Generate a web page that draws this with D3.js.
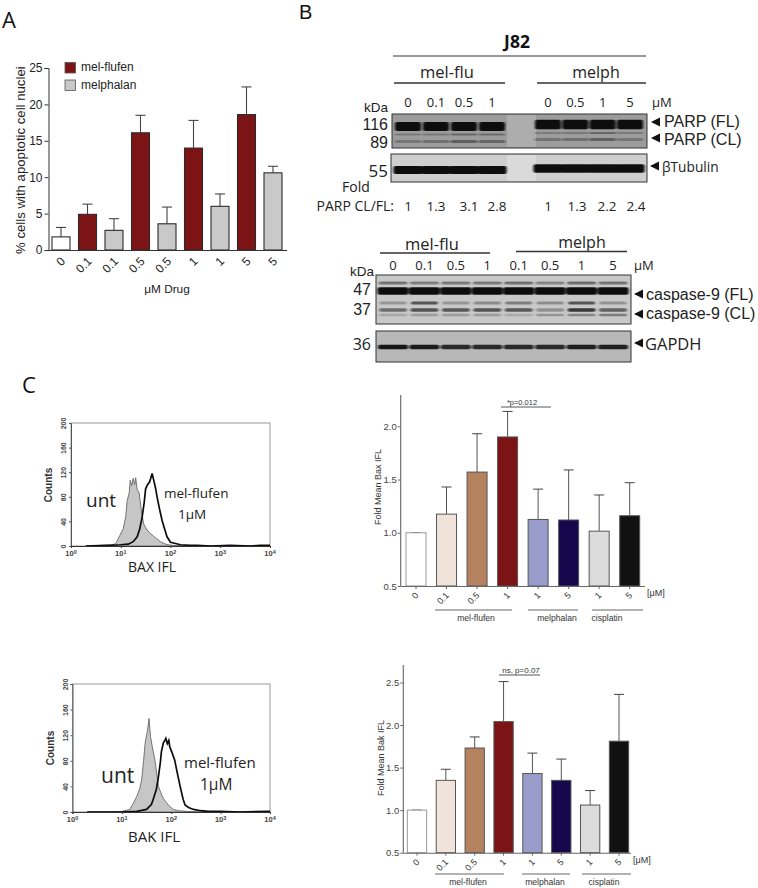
<!DOCTYPE html>
<html><head><meta charset="utf-8">
<script src="https://cdnjs.cloudflare.com/ajax/libs/d3/7.8.5/d3.min.js"></script>
<style>html,body{margin:0;background:#fff}svg{display:block}</style></head>
<body><svg id="c" width="758" height="888"></svg>
<script>
// ---- Panel A
const aCats=["0","0.1","0.1","0.5","0.5","1","1","5","5"];
const aVals=[1.8,4.9,2.7,16.1,3.6,14,6,18.6,10.6];
const aTops=[3.1,6.3,4.3,18.5,5.9,17.8,7.7,22.4,11.5];
const aKinds=["none","flufen","melph","flufen","melph","flufen","melph","flufen","melph"];
const aLegend=["mel-flufen","melphalan"];
// ---- Panel C bars
const cCats=["0","0.1","0.5","1","1","5","1","5"];
const cColors=["#ffffff","#efe3da","#b5825f","#7c1416","#9a9dcb","#17084e","#dcdcdc","#111111"];
const baxVals=[1,1.175,1.57,1.9,1.125,1.12,1.015,1.16];
const baxTops=[1,1.43,1.93,2.14,1.41,1.59,1.355,1.47];
const bakVals=[1,1.35,1.73,2.04,1.43,1.35,1.06,1.81];
const bakTops=[1,1.48,1.86,2.51,1.67,1.6,1.23,2.36];
// ---- Flow histograms (log10 intensity, counts)
const baxUntX=[0.3,0.6,0.8,0.9,0.98,1.05,1.1,1.13,1.17,1.19,1.22,1.25,1.28,1.3,1.33,1.37,1.41,1.46,1.5,1.55,1.6,1.66,1.72,1.8,1.87,1.95,2.05,2.3,4];
const baxUntY=[0,1,1,4,17,28,48,74,86,107,98,110,100,111,92,86,60,36,30,24,20,16,12,7,4,2,1,0,0];
const baxTrtX=[0.3,0.7,1,1.15,1.25,1.33,1.38,1.43,1.47,1.5,1.54,1.58,1.61,1.63,1.66,1.7,1.73,1.78,1.83,1.87,1.93,2,2.1,2.2,2.4,2.54,2.8,3.2,3.6,3.8,4];
const baxTrtY=[0,1,2,3,7,15,27,47,70,93,100,104,112,118,108,94,80,60,42,31,15,6,4,2,1,1,0,1,0,1,1];
const bakUntX=[0.3,0.8,1,1.16,1.22,1.3,1.36,1.4,1.44,1.47,1.5,1.52,1.55,1.58,1.62,1.67,1.74,1.8,1.84,1.9,1.94,2.04,2.15,2.3,2.6,4];
const bakUntY=[0,0,1,4,12,24,36,50,80,107,120,128,146,118,100,81,40,28,21,15,11,4,2,1,0,0];
const bakTrtX=[0.3,1,1.3,1.5,1.6,1.64,1.7,1.74,1.78,1.8,1.84,1.87,1.89,1.92,1.95,1.97,2.02,2.07,2.12,2.18,2.24,2.28,2.35,2.45,2.6,2.75,3,3.4,4];
const bakTrtY=[0,0,1,4,12,21,36,55,78,94,108,112,115,107,112,102,92,81,62,40,20,11,7,4,2,1,1,0,1];
// ---- Blots
const lanesTop=["0","0.1","0.5","1"];
const lanesTop2=["0","0.5","1","5"];
const foldFlu=["1","1.3","3.1","2.8"];
const foldMel=["1","1.3","2.2","2.4"];
const lanesCasp=["0","0.1","0.5","1","0.1 ","0.5 ","1 ","5"];
const parpFL=[1,1,1,1,1,1,1,1];
const parpCL=[.3,.35,.5,.45,.32,.35,.5,.3];
const tubulin=[1,1,1,1,1,1,1,1];
const casp1=[.5,.45,.48,.48,.52,.42,.55,.5];
const casp2=[1,1,1,1,1,1,1,1];
const casp3=[.3,.7,.3,.38,.45,.35,.7,.32];
const casp4=[.55,.7,.68,.7,.68,.32,.85,.62];
const casp5=[.22,.28,.28,.28,.18,.35,.45,.5];
const gapdh=[.95,.92,.85,.85,.85,.85,.9,.9];

const svg=d3.select("#c");
const defs=svg.append("defs");
defs.append("filter").attr("id","b1").attr("x","-10%").attr("y","-60%").attr("width","120%").attr("height","220%")
  .append("feGaussianBlur").attr("stdDeviation","0.9 0.7");
const BLOT='"Open Sans","Noto Sans",sans-serif', CHART='"Liberation Sans",Arial,sans-serif';
function txt(x,y,s,size,opt={}){
  return svg.append("text").attr("x",x).attr("y",y).text(s)
    .attr("font-family",opt.font||BLOT).attr("font-size",size)
    .attr("font-weight",opt.weight||400).attr("fill",opt.fill||"#222")
    .attr("text-anchor",opt.anchor||"start")
    .attr("transform",opt.rot!=null?`rotate(${opt.rot} ${x} ${y})`:null);
}
function hline(x1,x2,y,w=1.3,c="#333"){svg.append("line").attr("x1",x1).attr("x2",x2).attr("y1",y).attr("y2",y).attr("stroke",c).attr("stroke-width",w);}

txt(2,28,"A",22,{fill:"#111"}); txt(299,19,"B",20,{fill:"#111",font:CHART}); txt(22,393,"C",22,{fill:"#111"});

// ---------- Panel A
(function(){
  const y=d3.scaleLinear().domain([0,25]).range([250,68]);
  const x=d3.scalePoint().domain(d3.range(aCats.length)).range([61,273]);
  const g=svg.append("g");
  const col={none:"#fff",flufen:"#7c1416",melph:"#c9c9c9"};
  const bw=18;
  g.selectAll("line.e").data(aVals).join("line").attr("x1",(d,i)=>x(i)).attr("x2",(d,i)=>x(i))
    .attr("y1",d=>y(d)).attr("y2",(d,i)=>y(aTops[i])).attr("stroke","#444").attr("stroke-width",1.1);
  g.selectAll("line.c").data(aTops).join("line").attr("x1",(d,i)=>x(i)-5).attr("x2",(d,i)=>x(i)+5)
    .attr("y1",d=>y(d)).attr("y2",d=>y(d)).attr("stroke","#444").attr("stroke-width",1.1);
  g.selectAll("rect").data(aVals).join("rect").attr("x",(d,i)=>x(i)-bw/2).attr("width",bw)
    .attr("y",d=>y(d)).attr("height",d=>y(0)-y(d)).attr("fill",(d,i)=>col[aKinds[i]])
    .attr("stroke","#2b2b2b").attr("stroke-width",1.1);
  const ax=g.append("g").attr("transform","translate(48.5,0)").call(d3.axisLeft(y).tickValues([0,5,10,15,20,25]).tickSize(4).tickPadding(2));
  ax.selectAll("text").attr("font-family",CHART).attr("font-size",12).attr("fill","#222");
  ax.selectAll("path,line").attr("stroke","#333");
  hline(48,287,250.5,1.1);
  g.selectAll("text.t").data(aCats).join("text").attr("class","t").text(d=>d)
    .attr("font-family",CHART).attr("font-size",12).attr("fill","#222").attr("text-anchor","end")
    .attr("transform",(d,i)=>`translate(${x(i)+5},${262}) rotate(-45)`);
  txt(25,254,"% cells with apoptotic cell nuclei",13.2,{font:CHART,rot:-90});
  txt(167,293,"μM Drug",11.8,{font:CHART,anchor:"middle"});
  aLegend.forEach((s,i)=>{
    svg.append("rect").attr("x",65).attr("y",62.5+i*17.5).attr("width",10.5).attr("height",10.5)
      .attr("fill",i?"#c9c9c9":"#7c1416").attr("stroke","#555").attr("stroke-width",.8);
    txt(81,71+i*17.5,s,12,{font:CHART});
  });
})();

// ---------- Blots
function blot(x0,x1,y0,y1,bg,stroke){
  svg.append("rect").attr("x",x0).attr("y",y0).attr("width",x1-x0).attr("height",y1-y0)
    .attr("fill",bg).attr("stroke",stroke||"#333").attr("stroke-width",1);
}
function bands(xf,lanes,vals,y,h,w,dark){
  svg.append("g").attr("filter","url(#b1)").selectAll("rect").data(vals).join("rect")
    .attr("x",(d,i)=>xf(lanes[i])-w/2).attr("width",w).attr("y",y-h/2).attr("height",h).attr("rx",2)
    .attr("fill",dark||"#0a0a0a").attr("opacity",d=>d);
}
const fluX=d3.scalePoint().domain(lanesTop).range([408,492]);
const melX=d3.scalePoint().domain(lanesTop2).range([548,630]);
// PARP
blot(392,647,114,148,"#9c9c9c");
svg.append("rect").attr("x",507).attr("y",115).attr("width",29).attr("height",32).attr("fill","#adadad");
bands(fluX,lanesTop,parpFL.slice(0,4),126.5,9,26);
bands(melX,lanesTop2,parpFL.slice(4),124.5,9.5,26);
bands(fluX,lanesTop,parpCL.slice(0,4),134.5,1.8,27,"#333");
bands(melX,lanesTop2,parpCL.slice(4),133,1.8,27,"#333");
bands(fluX,lanesTop,parpCL.slice(0,4),141.5,3,27,"#222");
bands(melX,lanesTop2,parpCL.slice(4),139.5,3,27,"#222");
// Tubulin
blot(391,647,154,182,"#cfcfcf");
svg.append("rect").attr("x",507).attr("y",155).attr("width",29).attr("height",26).attr("fill","#dadada");
bands(fluX,lanesTop,tubulin.slice(0,4),170,8,29);
bands(melX,lanesTop2,tubulin.slice(4),168.5,8.5,29);
// Caspase
const caspX=d3.scalePoint().domain(lanesCasp).range([393,613]);
blot(376,631,275,324,"#c8c8c8");
const L=lanesCasp;
bands(caspX,L,casp1,283,3,29,"#222");
bands(caspX,L,casp2,291,7.5,31);
bands(caspX,L,casp3,303,3,27,"#222");
bands(caspX,L,casp4,310,3.5,28,"#222");
bands(caspX,L,casp5,315,2.5,28,"#333");
// GAPDH
blot(376,631,331,362,"#b8b8b8");
bands(caspX,L,gapdh,347,4.5,30);

const F={font:CHART};
// top blot labels
txt(517,48,"J82",17.5,{weight:700,anchor:"middle",fill:"#111"});
hline(393,646,56,1.2);
txt(447,78,"mel-flu",16.5,{anchor:"middle"}); hline(394,505,83);
txt(596,78,"melph",16,{anchor:"middle"}); hline(537,646,83);
lanesTop.forEach(l=>txt(fluX(l),107,l,13,{anchor:"middle"}));
lanesTop2.forEach(l=>txt(melX(l),107,l,13,{anchor:"middle"}));
txt(652,107,"μM",13);
txt(388,112,"kDa",13.5,{anchor:"end",...F});
txt(388,130,"116",16,{anchor:"end",...F}); txt(388,148,"89",16,{anchor:"end",...F}); txt(388,177,"55",17,{anchor:"end"});
txt(342,192,"Fold",14);
txt(394,211,"PARP CL/FL:",14,{anchor:"end"});
const foldX=d3.scaleOrdinal().domain(d3.range(8)).range([408,436,469,497,548,577,607,636]);
foldFlu.concat(foldMel).forEach((s,i)=>txt(foldX(i),211,s,13.5,{anchor:"middle"}));
function arrow(x,y){svg.append("path").attr("d",d3.line()([[x,y],[x+9,y-4.5],[x+9,y+4.5],[x,y]])).attr("fill","#111");}
arrow(651,122); txt(664,127,"PARP (FL)",16,F);
arrow(651,138); txt(664,145,"PARP (CL)",16,F);
arrow(650,166); txt(662,172,"βTubulin",13.7);
// caspase labels
txt(432,250,"mel-flu",16.5,{anchor:"middle"}); hline(380,490,253);
txt(582,248,"melph",16,{anchor:"middle"}); hline(516,627,251.5);
lanesCasp.forEach(l=>txt(caspX(l),270,l.trim(),13,{anchor:"middle"}));
txt(634,270,"μM",13);
txt(374,276,"kDa",13.5,{anchor:"end",...F});
txt(371,295,"47",16,{anchor:"end",...F}); txt(371,315,"37",16,{anchor:"end",...F}); txt(371,350,"36",16,{anchor:"end"});
arrow(634,294); txt(646,300,"caspase-9 (FL)",16,F);
arrow(634,314); txt(646,319,"caspase-9 (CL)",16,F);
arrow(634,343); txt(645,350,"GAPDH",16.5);

// ---------- Histograms
function hist(cfg){
  const x=d3.scaleLinear().domain([0,4]).range([cfg.x0,cfg.x1]);
  const y=d3.scaleLinear().domain([0,200]).range([cfg.y1,cfg.y0]);
  const g=svg.append("g");
  g.append("rect").attr("x",cfg.x0).attr("y",cfg.y0).attr("width",cfg.x1-cfg.x0).attr("height",cfg.y1-cfg.y0)
    .attr("fill","#fff").attr("stroke","#999").attr("stroke-width",1);
  const area=d3.area().x((d,i)=>x(cfg.ux[i])).y0(y(0)).y1(d=>y(d));
  const line=d3.line().x((d,i)=>x(cfg.tx[i])).y(d=>y(d));
  g.append("path").attr("d",area(cfg.uy)).attr("fill","#c6c6c6").attr("stroke","#666").attr("stroke-width",.9);
  g.append("path").attr("d",line(cfg.ty)).attr("fill","none").attr("stroke","#0c0c0c").attr("stroke-width",1.7);
  const ay=g.append("g").attr("transform",`translate(${cfg.x0},0)`).call(d3.axisLeft(y).tickValues([0,40,80,120,160,200]).tickSize(2).tickPadding(1));
  ay.selectAll("path").attr("stroke","#555");ay.selectAll("line").attr("stroke","#555");
  ay.selectAll("text").attr("font-family",CHART).attr("font-size",7).attr("font-weight",700).attr("fill","#444")
    .attr("text-anchor","middle").attr("dy",0).attr("transform","translate(-5,0) rotate(-90)").attr("x",0).attr("y",0);
  const ax=g.append("g").attr("transform",`translate(0,${cfg.y1})`).call(d3.axisBottom(x).tickValues([0,1,2,3,4]).tickSize(2).tickFormat(()=>""));
  ax.selectAll("path,line").attr("stroke","#333");
  [0,1,2,3,4].forEach(e=>{
    const t=g.append("text").attr("x",x(e)).attr("y",cfg.y1+10).attr("font-family",CHART).attr("font-size",7.5).attr("font-weight",700).attr("fill","#444").attr("text-anchor","middle");
    t.append("tspan").text("10");
    t.append("tspan").text(e).attr("font-size",5.5).attr("dy",-2.5);
  });
  txt(cfg.x0-19,cfg.y0+cfg.cy,"Counts",10,{font:CHART,weight:700,rot:-90,fill:"#333",anchor:"middle"});
}
hist({x0:71,x1:270,y0:423,y1:546,ux:baxUntX,uy:baxUntY,tx:baxTrtX,ty:baxTrtY,cy:62});
hist({x0:72.5,x1:270,y0:684,y1:812,ux:bakUntX,uy:bakUntY,tx:bakTrtX,ty:bakTrtY,cy:64});
txt(86,507,"unt",19,{fill:"#222"});
txt(164,498,"mel-flufen",13.5); txt(178,519,"1μM",13.5);
txt(128,572,"BAX IFL",14);
txt(101,783,"unt",21,{fill:"#222"});
txt(184,768,"mel-flufen",15); txt(200,790,"1μM",15.5);
txt(128,842,"BAK IFL",15);

// ---------- Panel C bars
function bars(cfg){
  const y=d3.scaleLinear().domain([0.5,cfg.top]).range([cfg.y0,cfg.yTop]);
  const x=d3.scalePoint().domain(d3.range(cCats.length)).range([cfg.c0,cfg.c1]);
  const g=svg.append("g");
  g.selectAll("line.e").data(cfg.vals).join("line").attr("x1",(d,i)=>x(i)).attr("x2",(d,i)=>x(i))
    .attr("y1",d=>y(d)).attr("y2",(d,i)=>y(cfg.tops[i])).attr("stroke","#555").attr("stroke-width",1);
  g.selectAll("line.c").data(cfg.tops).join("line").attr("x1",(d,i)=>x(i)-5).attr("x2",(d,i)=>x(i)+5)
    .attr("y1",d=>y(d)).attr("y2",d=>y(d)).attr("stroke","#444").attr("stroke-width",1);
  g.selectAll("rect").data(cfg.vals).join("rect").attr("x",(d,i)=>x(i)-cfg.bw/2).attr("width",cfg.bw)
    .attr("y",d=>y(d)).attr("height",d=>y(0.5)-y(d)).attr("fill",(d,i)=>cColors[i])
    .attr("stroke",(d,i)=>i===0?"#999":"#555").attr("stroke-width",1);
  const ay=g.append("g").attr("transform",`translate(${cfg.ax},0)`).call(d3.axisLeft(y).tickValues(cfg.ticks).tickFormat(d3.format(".1f")).tickSize(3).tickPadding(1));
  ay.selectAll("text").attr("font-family",CHART).attr("font-size",9.5).attr("fill","#444");
  ay.selectAll("line").attr("stroke","#666");
  ay.select("path").remove();
  svg.append("line").attr("x1",cfg.ax).attr("x2",cfg.ax).attr("y1",cfg.yTop).attr("y2",cfg.y0).attr("stroke","#666").attr("stroke-width",1.1);
  hline(cfg.ax,cfg.xEnd,cfg.y0+.5,1.1,"#666");
  x.domain().forEach(i=>svg.append("line").attr("x1",x(i)).attr("x2",x(i)).attr("y1",cfg.y0).attr("y2",cfg.y0+3).attr("stroke","#666"));
  g.selectAll("text.t").data(cCats).join("text").attr("class","t").text(d=>d)
    .attr("font-family",CHART).attr("font-size",9).attr("fill","#333").attr("text-anchor","end")
    .attr("transform",(d,i)=>`translate(${x(i)+3},${cfg.y0+10}) rotate(-45)`);
  txt(cfg.ylx,cfg.yly,cfg.ylabel,9,{font:CHART,rot:-90,anchor:"middle",fill:"#333"});
  txt(cfg.xEnd+2,cfg.y0+10,"[μM]",9,{font:CHART,fill:"#333"});
}
bars({vals:baxVals,tops:baxTops,top:2.294,y0:586,yTop:395,c0:416,c1:629.7,bw:20,ax:400.7,xEnd:645,ticks:[0.5,1,1.5,2],ylabel:"Fold Mean Bax IFL",ylx:381,yly:487});
bars({vals:bakVals,tops:bakTops,top:2.705,y0:852.7,yTop:665,c0:417,c1:619,bw:19.3,ax:403.3,xEnd:631,ticks:[0.5,1,1.5,2,2.5],ylabel:"Fold Mean Bak IFL",ylx:384,yly:758});
// group brackets & significance
function grp(x1,x2,y,s,c){hline(x1,x2,y,.9,"#555");txt(c,y+11,s,8.6,{font:CHART,anchor:"middle",fill:"#333"});}
grp(435,512,610,"mel-flufen",476); grp(528,578,610,"melphalan",557); grp(592,643,610,"cisplatin",607);
grp(435,504,874,"mel-flufen",468); grp(522,570,874,"melphalan",545); grp(582,631,874,"cisplatin",604);
hline(501,551,407,.9,"#444"); txt(522,405,"*p=0.012",7.5,{font:CHART,anchor:"middle",fill:"#333"});
hline(499,540,675,.9,"#444"); txt(521,673,"ns, p=0.07",8,{font:CHART,anchor:"middle",fill:"#333"});
</script></body></html>
